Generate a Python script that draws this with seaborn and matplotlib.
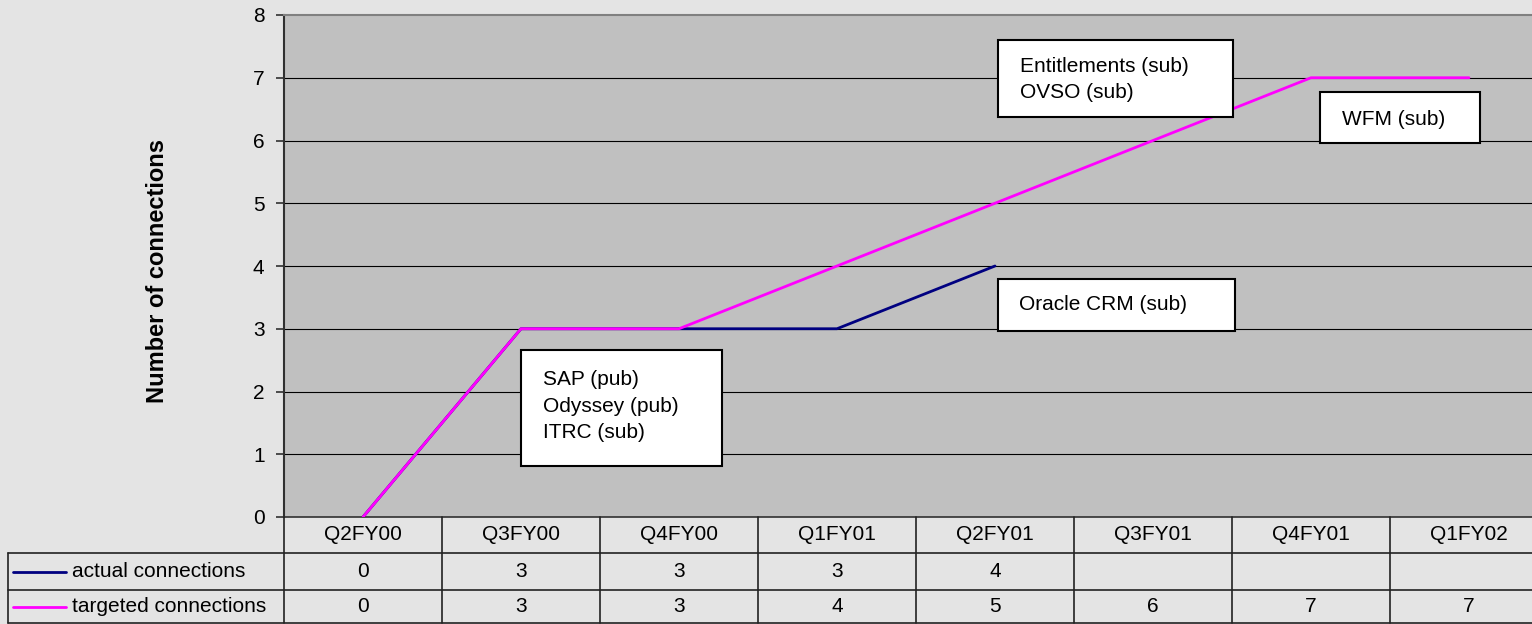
import numpy as np
import pandas as pd
import matplotlib
matplotlib.use("Agg")
import matplotlib.pyplot as plt
import seaborn as sns
from matplotlib.patches import Rectangle
from matplotlib.lines import Line2D
from matplotlib.transforms import blended_transform_factory

# ---- data ----
quarters = ["Q2FY00", "Q3FY00", "Q4FY00", "Q1FY01", "Q2FY01", "Q3FY01", "Q4FY01", "Q1FY02"]
actual = [0, 3, 3, 3, 4, np.nan, np.nan, np.nan]
targeted = [0, 3, 3, 4, 5, 6, 7, 7]
series_names = ["actual connections", "targeted connections"]
series_colors = ["#000080", "#FF00FF"]
yticks = [0, 1, 2, 3, 4, 5, 6, 7, 8]
ylabel = "Number of connections"
notes = [
    "SAP (pub)\nOdyssey (pub)\nITRC (sub)",
    "Entitlements (sub)\nOVSO (sub)",
    "WFM (sub)",
    "Oracle CRM (sub)",
]

sns.set_style("white")
plt.rcParams["font.family"] = ["Liberation Sans", "DejaVu Sans"]
plt.rcParams["text.color"] = "black"
plt.rcParams["ytick.color"] = "black"

W, H = 1532, 624
fig = plt.figure(figsize=(W / 100, H / 100), dpi=100)
fig.patch.set_facecolor("#e4e4e4")

def fx(px):
    return px / W

def fy(py):
    return 1 - py / H

col_w = 158.0
ax_left, ax_right = 284, 284 + col_w * len(quarters)
ax = fig.add_axes([fx(ax_left), fy(517), fx(ax_right) - fx(ax_left), fy(15) - fy(517)])
ax.set_facecolor("#c0c0c0")

xs = np.arange(len(quarters))
df = pd.DataFrame({
    "x": np.concatenate([xs, xs]),
    "value": np.concatenate([actual, targeted]),
    "series": [series_names[0]] * len(xs) + [series_names[1]] * len(xs),
})

for name, col in zip(series_names, series_colors):
    sub = df[df["series"] == name].dropna()
    sns.lineplot(data=sub, x="x", y="value", ax=ax, color=col, linewidth=2.0,
                 legend=False, zorder=3)

ax.set_xlim(-0.5, len(quarters) - 0.5)
ax.set_ylim(0, 8)
ax.set_yticks(yticks)
ax.set_yticklabels([str(t) for t in yticks], fontsize=15, color="black")
ax.set_xticks([])
ax.set_xlabel("")
ax.set_ylabel("")
for y in yticks[1:-1]:
    ax.axhline(y, color="black", linewidth=0.8, zorder=1)
ax.tick_params(axis="y", which="both", left=True, length=6, width=1.2,
               color="#303030", pad=8, labelcolor="black")
ax.spines["left"].set_color("#303030")
ax.spines["left"].set_linewidth(1.5)
ax.spines["top"].set_color("#808080")
ax.spines["top"].set_linewidth(1.5)
ax.spines["right"].set_visible(False)
ax.spines["bottom"].set_color("#303030")
ax.spines["bottom"].set_linewidth(1.2)

fig.text(fx(158), fy(271), ylabel, rotation=90, ha="center", va="center",
         fontsize=17, fontweight="bold", color="black")

# ---- data table ----
tr = blended_transform_factory(ax.transData, fig.transFigure)
row_y = [517, 553, 590, 623]
line_kw = dict(color="#222222", linewidth=1.2, clip_on=False)
left_px = 8
left_data = -0.5 + (left_px - ax_left) / col_w
for b in np.arange(-0.5, len(quarters) - 0.5, 1.0):
    fig.add_artist(Line2D([b, b], [fy(row_y[0]), fy(row_y[-1])], transform=tr, **line_kw))
for ry in row_y[1:]:
    fig.add_artist(Line2D([left_data, len(quarters) - 0.5], [fy(ry), fy(ry)], transform=tr, **line_kw))
fig.add_artist(Line2D([left_data, left_data], [fy(row_y[1]), fy(row_y[-1])], transform=tr, **line_kw))

for i, q in enumerate(quarters):
    fig.text(i, fy((row_y[0] + row_y[1]) / 2), q, transform=tr, ha="center", va="center",
             fontsize=15, color="black")
for r, (vals, name, col) in enumerate(zip([actual, targeted], series_names, series_colors)):
    cy = fy((row_y[r + 1] + row_y[r + 2]) / 2)
    for i, v in enumerate(vals):
        if not np.isnan(v):
            fig.text(i, cy, f"{int(v)}", transform=tr, ha="center", va="center",
                     fontsize=15, color="black")
    fig.add_artist(Line2D([fx(13), fx(66)], [cy, cy], transform=fig.transFigure,
                          color=col, linewidth=2.0))
    fig.text(fx(72), cy, name, ha="left", va="center", fontsize=15, color="black")

# ---- annotation boxes ----
boxes = [
    (521, 350, 722, 466, 543, 370),
    (998, 40, 1233, 117, 1020, 57),
    (1320, 92, 1480, 143, 1342, 110),
    (998, 279, 1235, 331, 1019, 295),
]
for (x0, y0, x1, y1, tx, ty), txt in zip(boxes, notes):
    fig.add_artist(Rectangle((fx(x0), fy(y1)), fx(x1) - fx(x0), fy(y0) - fy(y1),
                             transform=fig.transFigure, facecolor="white",
                             edgecolor="black", linewidth=1.5, zorder=5))
    fig.text(fx(tx), fy(ty), txt, ha="left", va="top", fontsize=15,
             linespacing=1.5, zorder=6, color="black")

fig.savefig("out.png", dpi=100, facecolor=fig.get_facecolor())
